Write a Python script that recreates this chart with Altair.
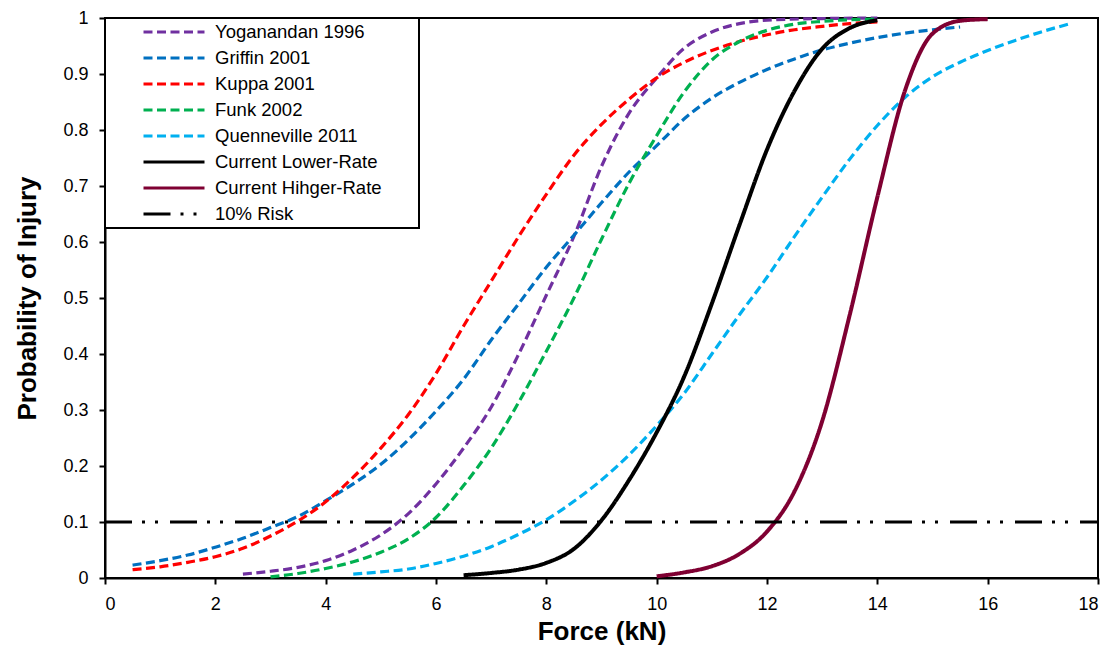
import altair as alt
import pandas as pd

names = ["Yoganandan 1996", "Griffin 2001", "Kuppa 2001", "Funk 2002",
         "Quenneville 2011", "Current Lower-Rate", "Current Hihger-Rate", "10% Risk"]
colors = ["#7030A0", "#0070C0", "#FF0000", "#00B050", "#00B0F0", "#000000", "#7F0032", "#000000"]
dashes = [[9, 4.5], [9, 4.5], [9, 4.5], [9, 4.5], [9, 4.5], [1, 0], [1, 0], [27, 10, 3, 10, 3, 12]]
widths = [3.2, 3.2, 3.2, 3.2, 3.2, 4, 4, 3]

yog_x = [2.5, 3.0, 3.5, 4.0, 4.5, 5.0, 5.5, 6.0, 6.5, 7.0, 7.5, 8.0, 8.5, 9.0, 9.5, 10.0, 10.5, 11.0, 11.5, 12.0, 13.0, 14.0]
yog_y = [0.007, 0.012, 0.019, 0.031, 0.05, 0.077, 0.115, 0.168, 0.232, 0.305, 0.40, 0.505, 0.61, 0.735, 0.83, 0.893, 0.946, 0.975, 0.99, 0.996, 0.999, 1.0]

gri_x = [0.5, 1.0, 1.5, 2.0, 2.5, 3.0, 3.5, 4.0, 4.5, 5.0, 5.5, 6.0, 6.5, 7.0, 7.5, 8.0, 8.5, 9.0, 9.5, 10.0,
         10.5, 11.0, 11.5, 12.0, 12.5, 13.0, 13.5, 14.0, 14.5, 15.0, 15.5]
gri_y = [0.023, 0.031, 0.041, 0.055, 0.071, 0.09, 0.11, 0.138, 0.168, 0.203, 0.247, 0.298, 0.355, 0.425, 0.49,
         0.555, 0.612, 0.67, 0.725, 0.772, 0.82, 0.857, 0.885, 0.908, 0.927, 0.943, 0.955, 0.965, 0.973, 0.979, 0.984]

kup_x = [0.5, 1.0, 1.5, 2.0, 2.5, 3.0, 3.5, 4.0, 4.5, 5.0, 5.5, 6.0, 6.5, 7.0, 7.5, 8.0, 8.5, 9.0, 9.5, 10.0,
         10.5, 11.0, 11.5, 12.0, 12.5, 13.0, 13.5, 14.0]
kup_y = [0.015, 0.020, 0.028, 0.038, 0.053, 0.075, 0.102, 0.136, 0.18, 0.232, 0.292, 0.365, 0.45, 0.53, 0.61,
         0.685, 0.755, 0.81, 0.855, 0.893, 0.921, 0.942, 0.958, 0.97, 0.979, 0.985, 0.99, 0.993]

fun_x = [3.0, 3.5, 4.0, 4.5, 5.0, 5.5, 6.0, 6.5, 7.0, 7.5, 8.0, 8.5, 9.0, 9.5, 10.0, 10.5, 11.0, 11.5, 12.0,
         12.5, 13.0, 13.5, 14.0]
fun_y = [0.002, 0.008, 0.017, 0.029, 0.046, 0.07, 0.108, 0.165, 0.232, 0.314, 0.405, 0.50, 0.605, 0.705, 0.79,
         0.868, 0.925, 0.958, 0.978, 0.989, 0.994, 0.997, 0.998]

que_x = [4.5, 5.0, 5.5, 6.0, 6.5, 7.0, 7.5, 8.0, 8.5, 9.0, 9.5, 10.0, 10.5, 11.0, 11.5, 12.0, 12.5, 13.0, 13.5,
         14.0, 14.5, 15.0, 15.5, 16.0, 16.5, 17.0, 17.5]
que_y = [0.007, 0.011, 0.016, 0.026, 0.039, 0.056, 0.078, 0.104, 0.137, 0.175, 0.22, 0.272, 0.33, 0.40, 0.47,
         0.537, 0.61, 0.68, 0.748, 0.808, 0.858, 0.895, 0.921, 0.942, 0.96, 0.976, 0.99]

low_x = [6.5, 7.0, 7.5, 8.0, 8.5, 9.0, 9.5, 10.0, 10.5, 11.0, 11.5, 12.0, 12.5, 13.0, 13.5, 14.0]
low_y = [0.005, 0.009, 0.015, 0.027, 0.052, 0.103, 0.175, 0.26, 0.36, 0.49, 0.63, 0.765, 0.87, 0.945, 0.982, 0.996]

hig_x = [10.0, 10.5, 11.0, 11.5, 12.0, 12.5, 13.0, 13.5, 14.0, 14.5, 15.0, 15.5, 16.0]
hig_y = [0.003, 0.01, 0.021, 0.043, 0.083, 0.155, 0.28, 0.47, 0.68, 0.87, 0.972, 0.995, 0.998]

risk_x = [0.0, 18.0]
risk_y = [0.1, 0.1]

x_ticks = [0, 2, 4, 6, 8, 10, 12, 14, 16, 18]
y_ticks = [0, 0.1, 0.2, 0.3, 0.4, 0.5, 0.6, 0.7, 0.8, 0.9, 1.0]

series = [(yog_x, yog_y), (gri_x, gri_y), (kup_x, kup_y), (fun_x, fun_y),
          (que_x, que_y), (low_x, low_y), (hig_x, hig_y), (risk_x, risk_y)]

rows = []
for i, (name, (xs, ys)) in enumerate(zip(names, series)):
    for xv, yv in zip(xs, ys):
        rows.append({"series": name, "force": xv, "prob": yv, "w": widths[i], "k": i})
df = pd.DataFrame(rows)

FONT = "Liberation Sans"

leg = alt.Legend(
    title=" ", titleOrient="right", titlePadding=33, titleFontSize=10,
    orient="none", legendX=0, legendY=0,
    symbolType="stroke", symbolSize=3721, symbolStrokeWidth=3,
    symbolOffset=33, clipHeight=20,
    labelFont=FONT, labelFontSize=18.5, labelColor="#000000", labelOffset=9, labelLimit=400,
    rowPadding=6, padding=4, fillColor="white", strokeColor="#000000",
)

chart = alt.Chart(df).mark_line(interpolate="monotone").encode(
    x=alt.X("force:Q", scale=alt.Scale(domain=[0, 18], nice=False, zero=False),
            axis=alt.Axis(values=x_ticks, title="Force (kN)", format="d", grid=False,
                          labelPadding=11, titlePadding=5)),
    y=alt.Y("prob:Q", scale=alt.Scale(domain=[0, 1], nice=False),
            axis=alt.Axis(values=y_ticks, title="Probability of Injury", format="~g", grid=False,
                          labelPadding=11, titleX=-78, titleY=280, titleAngle=270,
                          titleAlign="center", titleBaseline="middle")),
    color=alt.Color("series:N", scale=alt.Scale(domain=names, range=colors), legend=leg),
    strokeDash=alt.StrokeDash("series:N", scale=alt.Scale(domain=names, range=dashes), legend=leg),
    strokeWidth=alt.StrokeWidth("w:Q", scale=None),
    order=alt.Order("k:Q"),
).properties(
    width=993, height=560,
    autosize=alt.AutoSizeParams(type="none"),
    padding={"left": 97, "top": 10, "right": 14, "bottom": 70},
).configure_view(
    stroke="#000000", strokeWidth=2
).configure_axis(
    domainColor="#000000", domainWidth=2, tickColor="#000000", tickWidth=2, tickSize=6,
    labelFont=FONT, labelFontSize=18, labelColor="#000000",
    titleFont=FONT, titleFontSize=26, titleFontWeight="bold", titleColor="#000000",
).configure_legend(
    strokeWidth=2
)

chart.save("out.html", embed_options={"renderer": "svg", "actions": False})
